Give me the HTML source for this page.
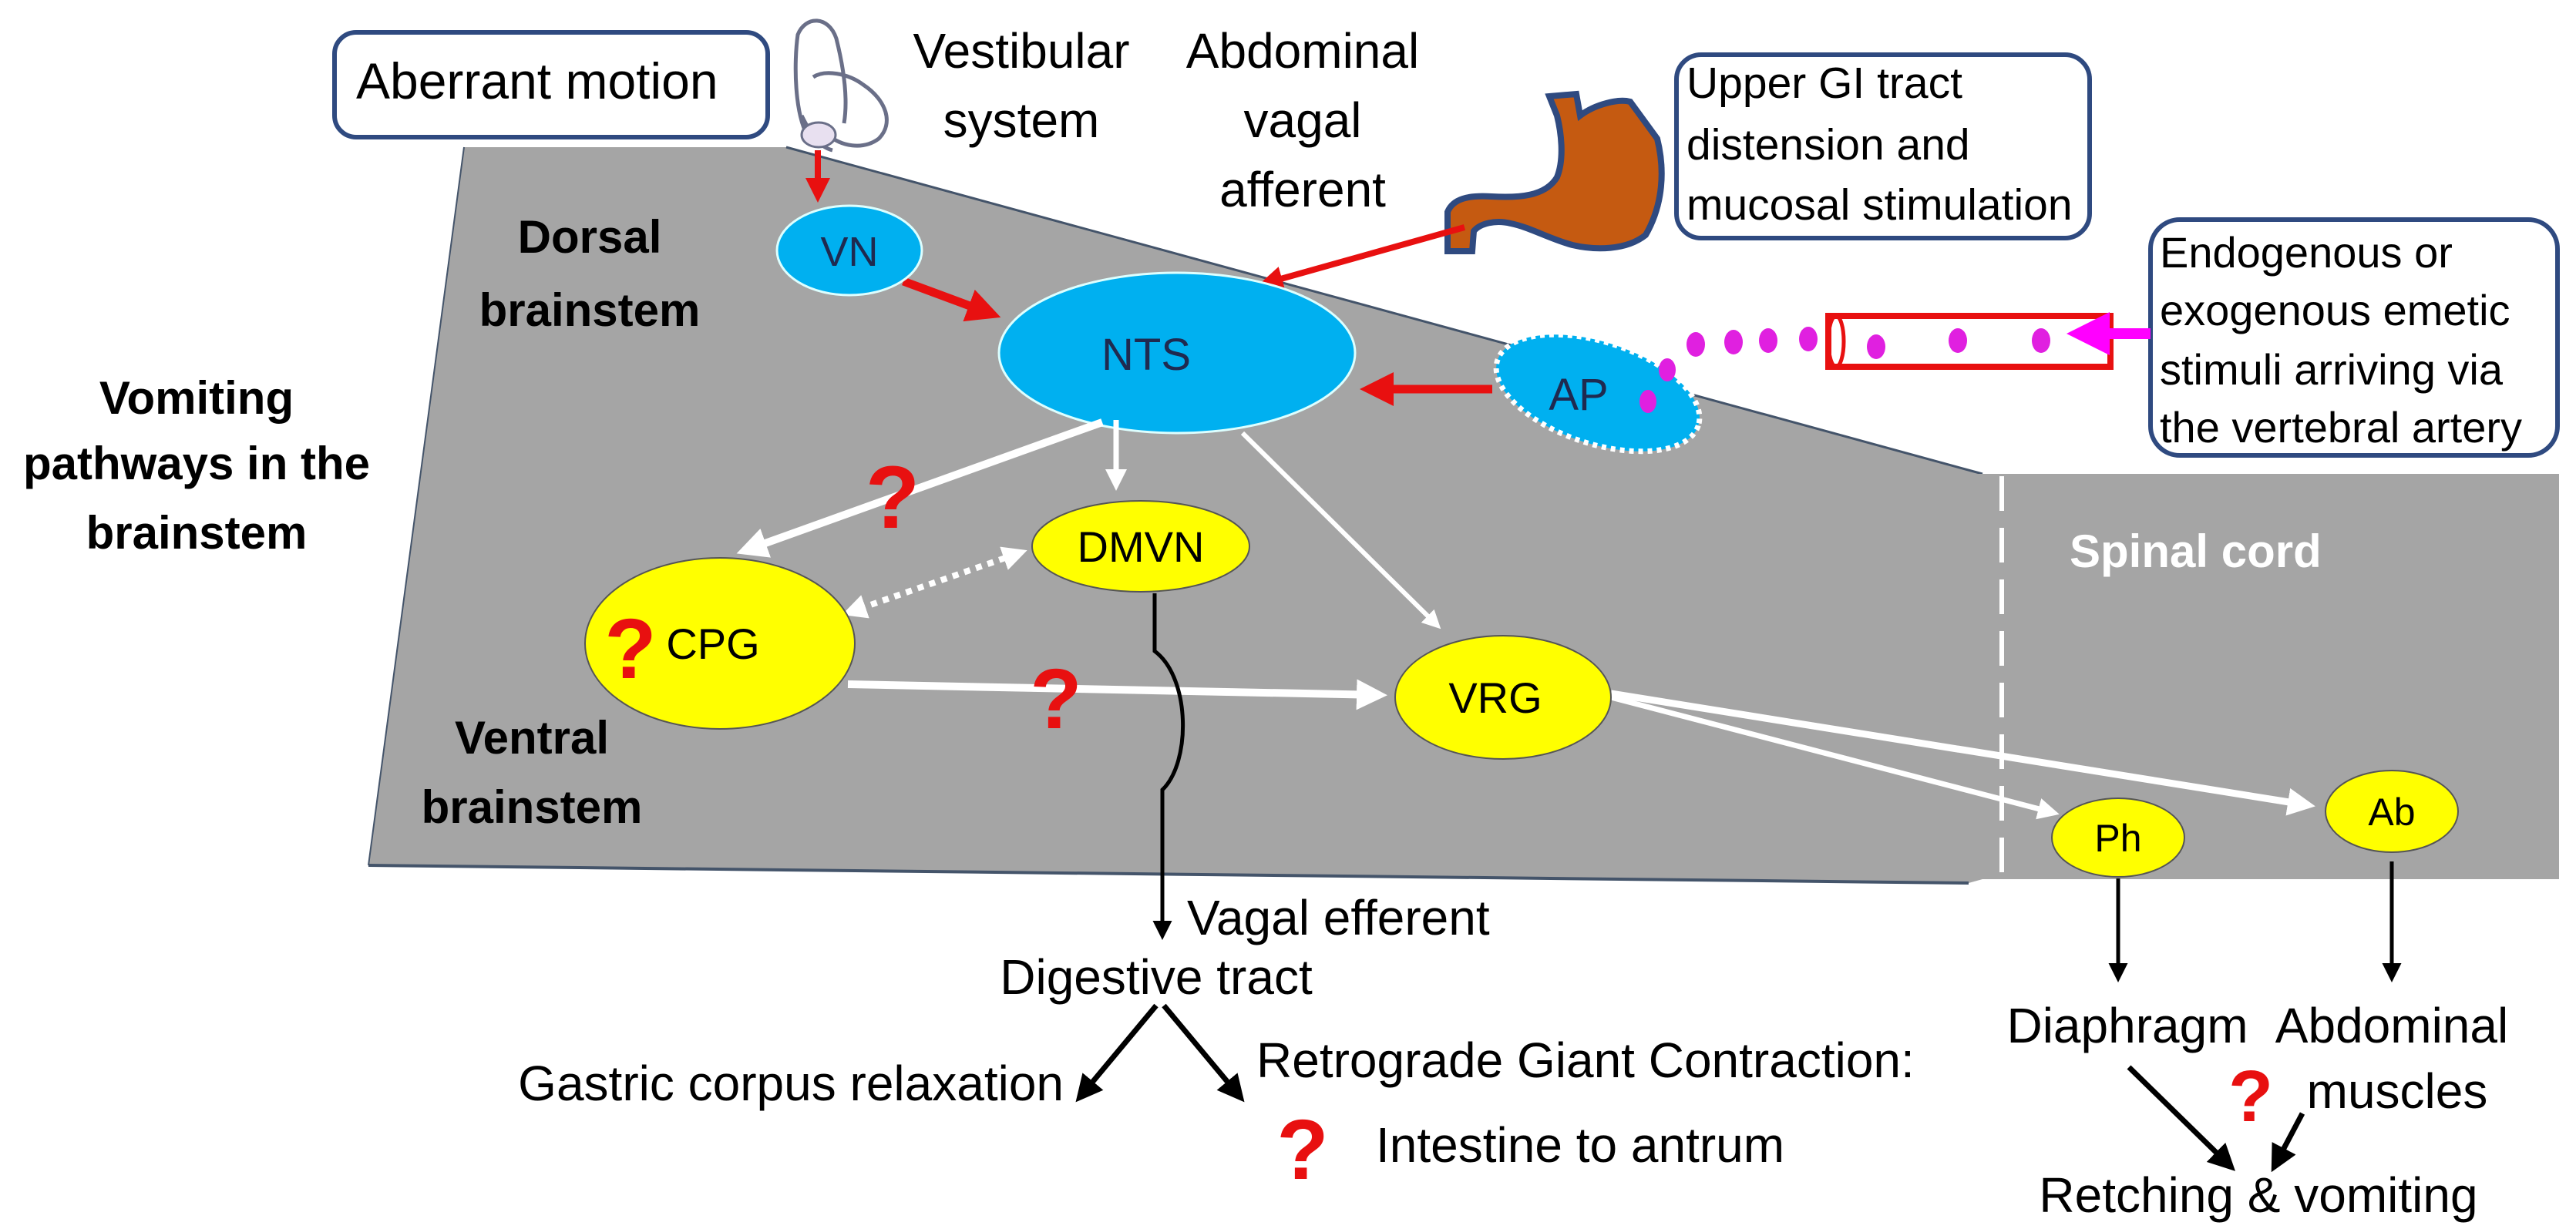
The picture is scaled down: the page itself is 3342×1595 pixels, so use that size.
<!DOCTYPE html>
<html><head><meta charset="utf-8"><style>
html,body{margin:0;padding:0;background:#fff;}
svg{display:block}
text{font-family:"Liberation Sans",sans-serif;}
</style></head><body>
<svg width="3342" height="1595" viewBox="0 0 3342 1595" xmlns="http://www.w3.org/2000/svg">
<defs>
<marker id="ar" markerWidth="4" markerHeight="4" refX="3" refY="2" orient="auto" markerUnits="strokeWidth"><path d="M0,0 L4,2 L0,4 z" fill="#e81010"/></marker>
<marker id="aw" markerWidth="4" markerHeight="4" refX="3" refY="2" orient="auto" markerUnits="strokeWidth"><path d="M0,0 L4,2 L0,4 z" fill="#fff"/></marker>
<marker id="aws" markerWidth="4" markerHeight="4" refX="1" refY="2" orient="auto-start-reverse" markerUnits="strokeWidth"><path d="M0,0 L4,2 L0,4 z" fill="#fff"/></marker>
<marker id="ab" markerWidth="5" markerHeight="5" refX="4" refY="2.5" orient="auto" markerUnits="strokeWidth"><path d="M0,0 L5,2.5 L0,5 z" fill="#000"/></marker>
<marker id="am" markerWidth="4" markerHeight="4" refX="3" refY="2" orient="auto" markerUnits="strokeWidth"><path d="M0,0 L4,2 L0,4 z" fill="#f0f"/></marker>
</defs>

<polygon points="602,191 1020,191 2572,615 2572,1141 2554,1146 478,1123" fill="#a5a5a5"/>
<line x1="478" y1="1123" x2="2554" y2="1146" stroke="#44546a" stroke-width="4"/>
<line x1="602" y1="191" x2="478" y2="1123" stroke="#44546a" stroke-width="2"/>
<line x1="1020" y1="191" x2="2572" y2="615" stroke="#44546a" stroke-width="3"/>
<rect x="2560" y="615" width="760" height="526" fill="#a5a5a5"/>
<line x1="2597" y1="618" x2="2597" y2="1135" stroke="#fff" stroke-width="6" stroke-dasharray="45,22"/>
<text x="2685" y="736" font-size="60" font-weight="bold" fill="#fff">Spinal cord</text>

<rect x="434" y="42" width="562" height="136" rx="28" fill="#fff" stroke="#2f4a80" stroke-width="6"/>
<text x="462" y="128" font-size="66">Aberrant motion</text>
<rect x="2175" y="71" width="536" height="238" rx="32" fill="#fff" stroke="#2f4a80" stroke-width="6"/>
<text font-size="57"><tspan x="2188" y="127">Upper GI tract</tspan><tspan x="2188" y="207">distension and</tspan><tspan x="2188" y="285">mucosal stimulation</tspan></text>
<rect x="2790" y="285" width="528" height="306" rx="38" fill="#fff" stroke="#2f4a80" stroke-width="6"/>
<text font-size="56"><tspan x="2802" y="347">Endogenous or</tspan><tspan x="2802" y="422">exogenous emetic</tspan><tspan x="2802" y="499">stimuli arriving via</tspan><tspan x="2802" y="574">the vertebral artery</tspan></text>

<g fill="none" stroke="#6a6f88" stroke-width="5">
<path d="M1050,180 C1030,150 1030,80 1035,45 C1045,20 1075,20 1085,50 C1095,90 1100,130 1095,160"/>
<path d="M1055,100 C1070,90 1100,95 1120,110 C1150,130 1160,160 1140,180 C1120,195 1090,190 1075,175"/>
<path d="M1040,150 C1050,170 1060,190 1080,195"/>
</g>
<ellipse cx="1062" cy="175" rx="22" ry="16" fill="#e8e0f0" stroke="#6a6f88" stroke-width="3"/>

<text font-size="64" text-anchor="middle"><tspan x="1325" y="88">Vestibular</tspan><tspan x="1325" y="178">system</tspan></text>
<text font-size="64" text-anchor="middle"><tspan x="1690" y="88">Abdominal</tspan><tspan x="1690" y="178">vagal</tspan><tspan x="1690" y="268">afferent</tspan></text>

<path d="M2010,125 L2045,122 L2050,150 C2070,135 2100,128 2115,132 L2150,180 C2160,220 2158,265 2135,305 C2110,325 2070,325 2040,318 C2010,310 1985,295 1960,290 C1940,285 1920,290 1912,300 L1910,326 L1878,326 L1878,275 C1885,258 1905,253 1935,255 C1970,257 2005,255 2020,230 C2030,205 2025,170 2020,150 Z" fill="#c55a11" stroke="#2f4a80" stroke-width="8"/>

<line x1="1061" y1="195" x2="1061" y2="255" stroke="#e81010" stroke-width="8" marker-end="url(#ar)"/>
<line x1="1172" y1="365" x2="1288" y2="408" stroke="#e81010" stroke-width="11" marker-end="url(#ar)"/>
<line x1="1900" y1="295" x2="1640" y2="368" stroke="#e81010" stroke-width="8" marker-end="url(#ar)"/>
<line x1="1936" y1="505" x2="1775" y2="505" stroke="#e81010" stroke-width="11" marker-end="url(#ar)"/>

<ellipse cx="1102" cy="325" rx="94" ry="58" fill="#00b0f0" stroke="#dff" stroke-width="3"/>
<text x="1102" y="345" font-size="54" text-anchor="middle" fill="#1f2a50">VN</text>
<ellipse cx="1527" cy="458" rx="231" ry="104" fill="#00b0f0" stroke="#dff" stroke-width="3"/>
<text x="1487" y="480" font-size="58" text-anchor="middle" fill="#1f2a50">NTS</text>
<ellipse cx="2073" cy="510" rx="137" ry="66" transform="rotate(18 2073 510)" fill="#00b0f0" stroke="#fff" stroke-width="7" stroke-dasharray="6,6"/>
<text x="2048" y="532" font-size="58" text-anchor="middle" fill="#1f2a50">AP</text>

<rect x="2372" y="410" width="366" height="66" fill="#fff" stroke="#e81010" stroke-width="8"/>
<ellipse cx="2382" cy="443" rx="10" ry="33" fill="none" stroke="#e81010" stroke-width="5"/>
<g fill="#e020e0">
<ellipse cx="2200" cy="447" rx="12" ry="16"/><ellipse cx="2249" cy="444" rx="12" ry="16"/><ellipse cx="2294" cy="442" rx="12" ry="16"/><ellipse cx="2346" cy="440" rx="12" ry="16"/>
<ellipse cx="2434" cy="450" rx="12" ry="16"/><ellipse cx="2540" cy="442" rx="12" ry="16"/><ellipse cx="2648" cy="442" rx="12" ry="16"/>
<ellipse cx="2163" cy="480" rx="11" ry="15"/><ellipse cx="2138" cy="521" rx="11" ry="15"/>
</g>
<line x1="2790" y1="433" x2="2695" y2="433" stroke="#f0f" stroke-width="14" marker-end="url(#am)"/>

<g stroke="#fff" fill="none">
<line x1="1430" y1="548" x2="965" y2="715" stroke-width="10" marker-end="url(#aw)"/>
<line x1="1448" y1="545" x2="1448" y2="630" stroke-width="7" marker-end="url(#aw)"/>
<line x1="1612" y1="562" x2="1865" y2="812" stroke-width="6" marker-end="url(#aw)"/>
<line x1="1100" y1="888" x2="1790" y2="902" stroke-width="10" marker-end="url(#aw)"/>
<line x1="1115" y1="790" x2="1310" y2="722" stroke-width="8" stroke-dasharray="8,8" marker-start="url(#aws)" marker-end="url(#aws)"/>
<line x1="2090" y1="905" x2="2665" y2="1055" stroke-width="7" marker-end="url(#aw)"/>
<line x1="2090" y1="900" x2="2995" y2="1045" stroke-width="9" marker-end="url(#aw)"/>
</g>

<ellipse cx="1480" cy="709" rx="141" ry="59" fill="#ffff00" stroke="#555" stroke-width="2"/>
<text x="1480" y="729" font-size="56" text-anchor="middle">DMVN</text>
<ellipse cx="934" cy="835" rx="175" ry="111" fill="#ffff00" stroke="#555" stroke-width="2"/>
<text x="925" y="855" font-size="56" text-anchor="middle">CPG</text>
<ellipse cx="1950" cy="905" rx="140" ry="80" fill="#ffff00" stroke="#555" stroke-width="2"/>
<text x="1940" y="925" font-size="56" text-anchor="middle">VRG</text>
<ellipse cx="2748" cy="1087" rx="86" ry="51" fill="#ffff00" stroke="#555" stroke-width="2"/>
<text x="2748" y="1105" font-size="50" text-anchor="middle">Ph</text>
<ellipse cx="3103" cy="1053" rx="86" ry="53" fill="#ffff00" stroke="#555" stroke-width="2"/>
<text x="3103" y="1071" font-size="50" text-anchor="middle">Ab</text>

<path d="M1498,770 L1498,845 C1545,880 1545,990 1508,1025 L1508,1215" fill="none" stroke="#000" stroke-width="5" marker-end="url(#ab)"/>

<g fill="#e81010" font-weight="bold" text-anchor="middle">
<text x="1158" y="685" font-size="115">?</text>
<text x="818" y="880" font-size="110">?</text>
<text x="1370" y="945" font-size="110">?</text>
<text x="1690" y="1530" font-size="110">?</text>
<text x="2920" y="1455" font-size="95">?</text>
</g>

<g font-weight="bold" font-size="60" text-anchor="middle">
<text><tspan x="765" y="328">Dorsal</tspan><tspan x="765" y="423">brainstem</tspan></text>
<text><tspan x="255" y="537">Vomiting</tspan><tspan x="255" y="622">pathways in the</tspan><tspan x="255" y="712">brainstem</tspan></text>
<text><tspan x="690" y="978">Ventral</tspan><tspan x="690" y="1068">brainstem</tspan></text>
</g>

<g font-size="64">
<text x="1540" y="1213">Vagal efferent</text>
<text x="1500" y="1290" text-anchor="middle">Digestive tract</text>
<text x="1380" y="1428" text-anchor="end">Gastric corpus relaxation</text>
<text x="1630" y="1398">Retrograde Giant Contraction:</text>
<text x="1785" y="1508">Intestine to antrum</text>
<text x="2760" y="1353" text-anchor="middle">Diaphragm</text>
<text x="3103" y="1353" text-anchor="middle">Abdominal</text>
<text x="3110" y="1438" text-anchor="middle">muscles</text>
<text x="2930" y="1573" text-anchor="middle">Retching &amp; vomiting</text>
</g>

<g stroke="#000" stroke-width="7" fill="none">
<line x1="1500" y1="1305" x2="1400" y2="1425" marker-end="url(#ab)"/>
<line x1="1510" y1="1305" x2="1610" y2="1425" marker-end="url(#ab)"/>
<line x1="2748" y1="1140" x2="2748" y2="1270" stroke-width="5" marker-end="url(#ab)"/>
<line x1="3103" y1="1118" x2="3103" y2="1270" stroke-width="5" marker-end="url(#ab)"/>
<line x1="2762" y1="1385" x2="2895" y2="1515" marker-end="url(#ab)"/>
<line x1="2987" y1="1445" x2="2950" y2="1515" marker-end="url(#ab)"/>
</g>
</svg>
</body></html>
